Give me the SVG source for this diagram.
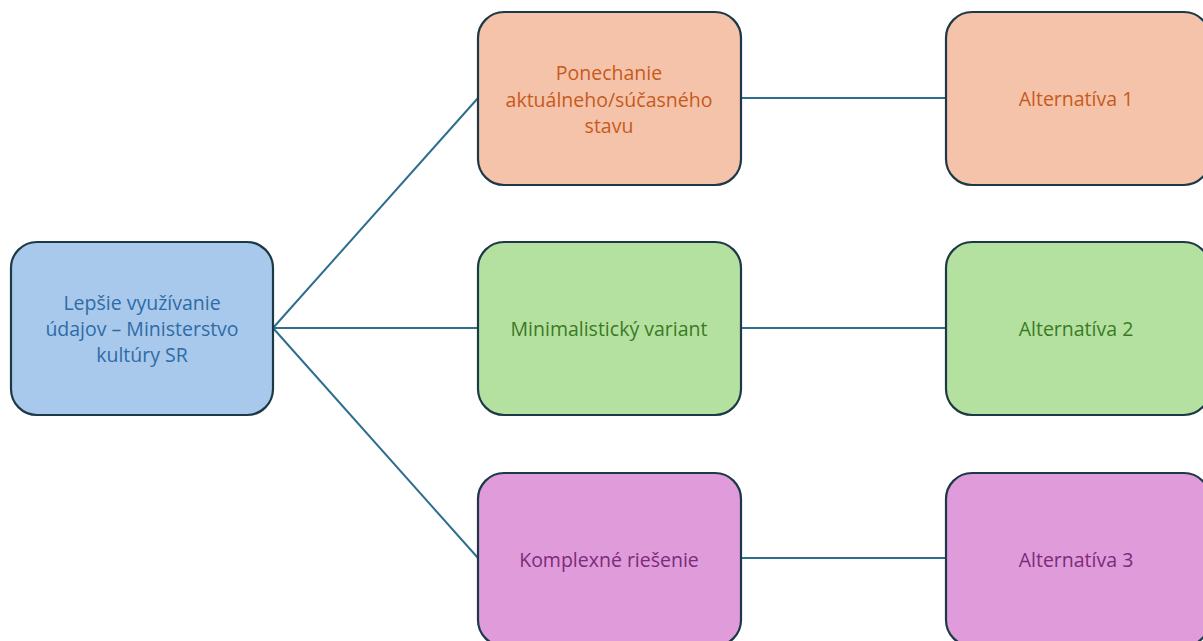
<svg xmlns="http://www.w3.org/2000/svg" width="1203" height="641" viewBox="0 0 1203 641">
<style>
.n{stroke:#1d3847;stroke-width:2.2}
.t{font-family:"Open Sans","Liberation Sans",sans-serif;font-size:19.5px;font-weight:500;text-anchor:middle;dominant-baseline:central}
.c{stroke:#2e6e8e;stroke-width:2;fill:none}
.b rect{fill:#a8c9eb}.b text{fill:#2f6ba6}
.o rect{fill:#f5c3a9}.o text{fill:#c55a1d}
.g rect{fill:#b5e1a0}.g text{fill:#3b7a24}
.p rect{fill:#e09bdb}.p text{fill:#7b2b7a}
</style>
<rect width="1203" height="641" fill="#ffffff"/>
<g id="connectors">
<line class="c" x1="273" y1="328" x2="478" y2="98"/>
<line class="c" x1="273" y1="328" x2="478" y2="328"/>
<line class="c" x1="273" y1="328" x2="478" y2="558"/>
<line class="c" x1="741" y1="98" x2="946" y2="98"/>
<line class="c" x1="741" y1="328" x2="946" y2="328"/>
<line class="c" x1="741" y1="558" x2="946" y2="558"/>
</g>
<g id="root" class="b">
<rect class="n" x="11" y="242" width="262" height="173" rx="26"/>
<text class="t" x="142" y="302">Lepšie využívanie</text>
<text class="t" x="142" y="328">údajov – Ministerstvo</text>
<text class="t" x="142" y="354">kultúry SR</text>
</g>
<g id="option1" class="o">
<rect class="n" x="478" y="12" width="263" height="173" rx="26"/>
<text class="t" x="609" y="72">Ponechanie</text>
<text class="t" x="609" y="99">aktuálneho/súčasného</text>
<text class="t" x="609" y="125">stavu</text>
</g>
<g id="option2" class="g">
<rect class="n" x="478" y="242" width="263" height="173" rx="26"/>
<text class="t" x="609" y="328">Minimalistický variant</text>
</g>
<g id="option3" class="p">
<rect class="n" x="478" y="473" width="263" height="173" rx="26"/>
<text class="t" x="609" y="559">Komplexné riešenie</text>
</g>
<g id="alt1" class="o">
<rect class="n" x="946" y="12" width="264" height="173" rx="26"/>
<text class="t" x="1076" y="98">Alternatíva 1</text>
</g>
<g id="alt2" class="g">
<rect class="n" x="946" y="242" width="264" height="173" rx="26"/>
<text class="t" x="1076" y="328">Alternatíva 2</text>
</g>
<g id="alt3" class="p">
<rect class="n" x="946" y="473" width="264" height="173" rx="26"/>
<text class="t" x="1076" y="559">Alternatíva 3</text>
</g>
</svg>
